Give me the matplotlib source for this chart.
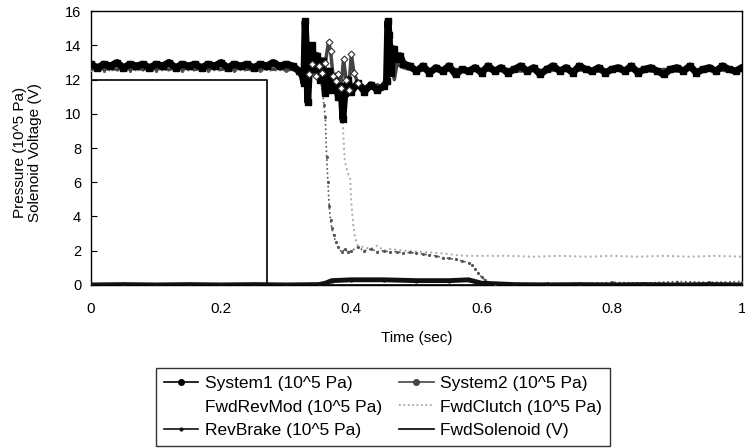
import matplotlib
matplotlib.use('Agg')
import numpy as np
import matplotlib.pyplot as plt

plt.rcParams['font.family'] = ['Liberation Sans', 'DejaVu Sans']

# ---- data ----
sys1_t = list(np.round(np.arange(0.0, 0.315, 0.01), 3)) + [
    0.32, 0.325, 0.327, 0.329, 0.331, 0.333, 0.336, 0.34, 0.344, 0.348,
    0.352, 0.356, 0.36, 0.365, 0.37, 0.375, 0.38, 0.384, 0.387, 0.39,
    0.395, 0.40, 0.41, 0.42, 0.43, 0.44, 0.45, 0.454, 0.456, 0.458,
    0.461, 0.465, 0.47, 0.475, 0.48, 0.49] + list(np.round(np.arange(0.50, 1.005, 0.01), 3))
sys1_v = [12.9, 12.7, 12.9, 12.8, 13.0, 12.7, 12.9, 12.8, 12.9, 12.7,
          12.9, 12.8, 13.0, 12.7, 12.9, 12.8, 12.9, 12.7, 12.9, 12.8,
          13.0, 12.7, 12.9, 12.8, 12.9, 12.7, 12.9, 12.8, 13.0, 12.8,
          12.9, 12.8,
          12.5, 12.2, 11.8, 15.4, 13.8, 10.7, 12.9, 14.0, 12.6, 13.4,
          12.0, 13.1, 11.2, 12.5, 11.4, 12.2, 11.0, 11.6, 9.7, 11.2,
          12.0, 11.3, 11.8, 11.3, 11.7, 11.4, 11.6, 11.9, 15.4, 14.6,
          12.4, 13.8, 13.2, 13.4, 12.9, 12.8,
          12.5, 12.8, 12.4, 12.7, 12.5, 12.8, 12.3, 12.6, 12.5, 12.7,
          12.4, 12.8, 12.5, 12.7, 12.4, 12.6, 12.8, 12.5, 12.7, 12.3,
          12.6, 12.8, 12.5, 12.7, 12.4, 12.8, 12.6, 12.5, 12.7, 12.4,
          12.6, 12.7, 12.5, 12.8, 12.4, 12.6, 12.7, 12.5, 12.3, 12.6,
          12.7, 12.5, 12.8, 12.4, 12.6, 12.7, 12.5, 12.8, 12.6, 12.5, 12.7]

sys2_t = list(np.round(np.arange(0.0, 0.315, 0.01), 3)) + [
    0.32, 0.325, 0.33, 0.335, 0.34, 0.345, 0.35, 0.355, 0.36, 0.365,
    0.368, 0.372, 0.376, 0.38, 0.384, 0.388, 0.392, 0.396, 0.40, 0.404,
    0.41, 0.42, 0.43, 0.44, 0.45, 0.455, 0.458, 0.462, 0.466, 0.47,
    0.48] + list(np.round(np.arange(0.50, 1.005, 0.02), 3))
sys2_v = [12.6, 12.7, 12.6, 12.7, 12.6, 12.7, 12.6, 12.7, 12.6, 12.7,
          12.6, 12.7, 12.6, 12.7, 12.6, 12.7, 12.6, 12.7, 12.6, 12.7,
          12.6, 12.7, 12.6, 12.7, 12.6, 12.7, 12.6, 12.7, 12.6, 12.7,
          12.6, 12.6,
          12.4, 12.0, 11.7, 12.3, 12.9, 12.2, 12.8, 12.4, 13.0, 14.2,
          13.7, 12.2, 11.9, 12.3, 11.5, 13.2, 12.0, 11.4, 13.5, 12.4,
          11.8, 11.6, 11.5, 11.7, 11.5, 11.8, 12.4, 12.9, 12.0, 12.9,
          12.7,
          12.5, 12.6, 12.5, 12.6, 12.5, 12.6, 12.5, 12.6, 12.5, 12.6,
          12.5, 12.6, 12.5, 12.6, 12.5, 12.6, 12.5, 12.6, 12.5, 12.6,
          12.5, 12.6, 12.5, 12.6, 12.5, 12.6]

fwdrev_t = list(np.round(np.arange(0.0, 0.325, 0.02), 3)) + [
    0.34, 0.36, 0.37, 0.38, 0.385, 0.388, 0.39, 0.395, 0.398, 0.40,
    0.403, 0.406, 0.41, 0.42, 0.43, 0.44, 0.45, 0.46, 0.48, 0.50,
    0.52, 0.54, 0.56, 0.58] + list(np.round(np.arange(0.60, 1.005, 0.04), 3))
fwdrev_v = [12.5, 12.6, 12.5, 12.6, 12.5, 12.6, 12.5, 12.6, 12.5, 12.6,
            12.5, 12.6, 12.5, 12.6, 12.5, 12.6, 12.5,
            12.2, 12.0, 11.8, 11.6, 11.0, 8.5, 7.2, 6.5, 6.3, 4.8,
            3.5, 2.7, 2.3, 2.2, 2.1, 2.3, 2.0, 2.1, 2.0, 1.95,
            1.9, 1.85, 1.75, 1.7,
            1.7, 1.7, 1.65, 1.7, 1.65, 1.7, 1.65, 1.7, 1.65, 1.7, 1.65]

clutch_t = list(np.round(np.arange(0.0, 0.325, 0.02), 3)) + [
    0.34, 0.35, 0.355, 0.358, 0.36, 0.362, 0.364, 0.366, 0.368, 0.37,
    0.373, 0.376, 0.38, 0.385, 0.39, 0.395, 0.40, 0.41, 0.42, 0.43,
    0.44, 0.45, 0.46, 0.47, 0.48, 0.49, 0.50, 0.51, 0.52, 0.53,
    0.54, 0.55, 0.56, 0.57, 0.58, 0.585, 0.59, 0.595, 0.60, 0.605,
    0.61, 0.62, 0.65, 0.70, 0.75, 0.80, 0.85, 0.90, 0.95, 1.00]
clutch_v = [12.6, 12.5, 12.6, 12.5, 12.6, 12.5, 12.6, 12.5, 12.6, 12.5,
            12.6, 12.5, 12.6, 12.5, 12.6, 12.5, 12.6,
            12.3, 12.1, 11.5, 10.5, 9.8, 7.5, 6.0, 4.6, 3.8, 3.3,
            2.9, 2.5, 2.2, 1.9, 2.1, 1.9, 2.0, 2.2, 2.0, 2.1,
            1.95, 2.0, 1.9, 1.95, 1.85, 1.9, 1.85, 1.8, 1.75, 1.7,
            1.6, 1.55, 1.5, 1.4, 1.3, 1.15, 0.95, 0.7, 0.45, 0.3,
            0.15, 0.05, 0.05, 0.1, 0.05, 0.15, 0.1, 0.2, 0.15, 0.2]

brake_t = [0.0, 0.05, 0.10, 0.15, 0.20, 0.25, 0.30, 0.35, 0.36, 0.37,
           0.40, 0.45, 0.50, 0.55, 0.58, 0.60, 0.65, 0.70, 0.75, 0.80,
           0.85, 0.90, 0.95, 1.00]
brake_v = [0.0, 0.02, 0.0, 0.02, 0.0, 0.02, 0.0, 0.02, 0.1, 0.25,
           0.3, 0.3, 0.25, 0.25, 0.3, 0.1, 0.02, 0.0, 0.02, 0.0,
           0.02, 0.0, 0.02, 0.0]

sol_t = [0.0, 0.27, 0.27, 1.0]
sol_v = [12.0, 12.0, 0.0, 0.0]

labels = ['System1 (10^5 Pa)', 'System2 (10^5 Pa)', 'FwdRevMod (10^5 Pa)',
          'FwdClutch (10^5 Pa)', 'RevBrake (10^5 Pa)', 'FwdSolenoid (V)']

fig = plt.figure(figsize=(7.45, 4.48), dpi=100)
ax = fig.add_axes([0.122, 0.364, 0.874, 0.611])

h_sol, = ax.plot(sol_t, sol_v, color='black', lw=1.2, zorder=2, label=labels[5])
h_rev, = ax.plot(fwdrev_t, fwdrev_v, color='#aaaaaa', lw=1.4, ls=':', zorder=3, label=labels[2])
h_clu, = ax.plot(clutch_t, clutch_v, color='#555555', lw=1.2, ls=':', marker='.',
                 ms=2.5, zorder=3, label=labels[3])
h_brk, = ax.plot(brake_t, brake_v, color='#111111', lw=3.5, marker='.', ms=4,
                 zorder=4, label=labels[4])
h_s2, = ax.plot(sys2_t, sys2_v, color='#444444', lw=2.5, marker='D', ms=3,
                mfc='white', mec='#444444', markevery=[], zorder=4, label=labels[1])
h_s1, = ax.plot(sys1_t, sys1_v, color='black', lw=5, marker='s', ms=4,
                zorder=5, label=labels[0])
# open diamonds of System2 showing through in the unsettled region
idx = [i for i, t in enumerate(sys2_t) if 0.335 <= t <= 0.41]
ax.plot([sys2_t[i] for i in idx], [sys2_v[i] for i in idx], ls='none', marker='D',
        ms=3.5, mfc='white', mec='#333333', mew=0.8, zorder=6)

ax.set_xlim(0, 1)
ax.set_ylim(0, 16)
ax.set_xticks([0, 0.2, 0.4, 0.6, 0.8, 1])
ax.set_xticklabels(['0', '0.2', '0.4', '0.6', '0.8', '1'])
ax.set_yticks(range(0, 17, 2))
ax.tick_params(axis='x', direction='in', length=0, pad=12, labelsize=11)
ax.tick_params(axis='y', direction='in', length=4, pad=7, labelsize=10.5)
for s in ax.spines.values():
    s.set_linewidth(1.0)
ax.set_xlabel('Time (sec)', fontsize=11, labelpad=11)
fig.text(0.037, 0.66, 'Pressure (10^5 Pa)\nSolenoid Voltage (V)', rotation=90,
         ha='center', va='center', fontsize=11, linespacing=1.05)

leg = fig.legend([h_s1, h_rev, h_brk, h_s2, h_clu, h_sol],
                 [labels[0], labels[2], labels[4], labels[1], labels[3], labels[5]],
                 ncol=2, loc='lower left', bbox_to_anchor=(0.209, 0.004, 0.61, 0.175),
                 mode='expand', fontsize=12.5, frameon=True, fancybox=False,
                 edgecolor='black', handlelength=2.0, handletextpad=0.4,
                 labelspacing=0.5, borderpad=0.45, borderaxespad=0, columnspacing=0.8)
leg.get_frame().set_linewidth(1.0)
# legend samples are thin lines with a small dot, as in the original
for hl in leg.legend_handles:
    hl.set_linewidth(1.2)
    hl.set_markersize(4)
leg.legend_handles[0].set_marker('o')
leg.legend_handles[3].set_marker('o')
leg.legend_handles[3].set_markerfacecolor('#444444')
leg.legend_handles[1].set_alpha(0)
leg.legend_handles[4].set_marker('')
leg.legend_handles[4].set_color('#999999')

plt.savefig('out.png', dpi=100)
